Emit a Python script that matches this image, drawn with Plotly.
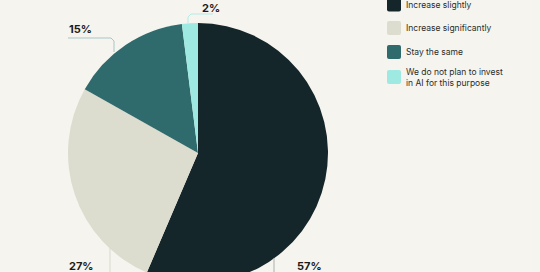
import plotly.graph_objects as go

categories = ["Increase slightly", "Increase significantly", "Stay the same",
              "We do not plan to invest<br>in AI for this purpose"]
values = [57, 27, 15, 2]
labels = ["57%", "27%", "15%", "2%"]
colors = ["#15262b", "#dcdccf", "#2f6a6c", "#9ee9e2"]

W, H = 540, 300
BG = "#f5f4ee"

def px(x):
    return x / W

def py(y):
    return (H - y) / H

fig = go.Figure()
fig.add_trace(go.Pie(
    values=values, labels=categories, sort=False, direction="clockwise",
    rotation=0, textinfo="none", hoverinfo="label+percent",
    marker=dict(colors=colors, line=dict(width=0)),
    domain=dict(x=[px(68), px(328)], y=[py(283), py(23)]),
    showlegend=False,
))

annotations = []
shapes = []

def rounded_rect(x0, y0, x1, y1, r):
    pts = [
        "M {} {}".format(px(x0 + r), py(y0)),
        "L {} {}".format(px(x1 - r), py(y0)),
        "Q {} {} {} {}".format(px(x1), py(y0), px(x1), py(y0 + r)),
        "L {} {}".format(px(x1), py(y1 - r)),
        "Q {} {} {} {}".format(px(x1), py(y1), px(x1 - r), py(y1)),
        "L {} {}".format(px(x0 + r), py(y1)),
        "Q {} {} {} {}".format(px(x0), py(y1), px(x0), py(y1 - r)),
        "L {} {}".format(px(x0), py(y0 + r)),
        "Q {} {} {} {}".format(px(x0), py(y0), px(x0 + r), py(y0)),
        "Z",
    ]
    return " ".join(pts)

# legend (manual)
leg_y = [4.5, 28, 52, 77]
for cat, col, yy in zip(categories, colors, leg_y):
    shapes.append(dict(type="path", xref="paper", yref="paper",
                       path=rounded_rect(387, yy - 7, 401, yy + 7, 2),
                       fillcolor=col, line=dict(width=0), layer="above"))
    annotations.append(dict(text=cat, xref="paper", yref="paper",
                            x=px(404), y=py(yy), xanchor="left", yanchor="middle",
                            showarrow=False, align="left",
                            font=dict(family="Inter", size=8.5, color="#2c2c2c")))

# value labels
lab_pos = [(295, 266), (67, 266), (67, 29), (200, 7.5)]
for lab, (lx, ly) in zip(labels, lab_pos):
    annotations.append(dict(text="<b>" + lab + "</b>", xref="paper", yref="paper",
                            x=px(lx), y=py(ly), xanchor="left", yanchor="middle",
                            showarrow=False,
                            font=dict(family="Inter", size=11, color="#1b1b1b")))

def path(points):
    s = "M {} {}".format(px(points[0][0]), py(points[0][1]))
    for p in points[1:]:
        s += " L {} {}".format(px(p[0]), py(p[1]))
    return s

leader_lines = [
    ([(274, 258), (274, 285)], "#a9b0ad"),
    ([(110, 247), (110, 285)], "#d9d9cf"),
    ([(68, 38), (111, 38), (114, 41), (114, 52)], "#a8c7c6"),
    ([(213, 14), (191, 14), (188, 17), (188, 23)], "#b5ece6"),
]
for pts, col in leader_lines:
    shapes.append(dict(type="path", xref="paper", yref="paper", path=path(pts),
                       line=dict(color=col, width=1)))

fig.update_layout(
    width=W, height=H, margin=dict(l=0, r=0, t=0, b=0),
    paper_bgcolor=BG, plot_bgcolor=BG,
    annotations=annotations, shapes=shapes,
)

fig.write_html("out.html", post_script=(
    "document.documentElement.style.overflow='hidden';"
    "document.body.style.overflow='hidden';document.body.style.margin='0';"
))
